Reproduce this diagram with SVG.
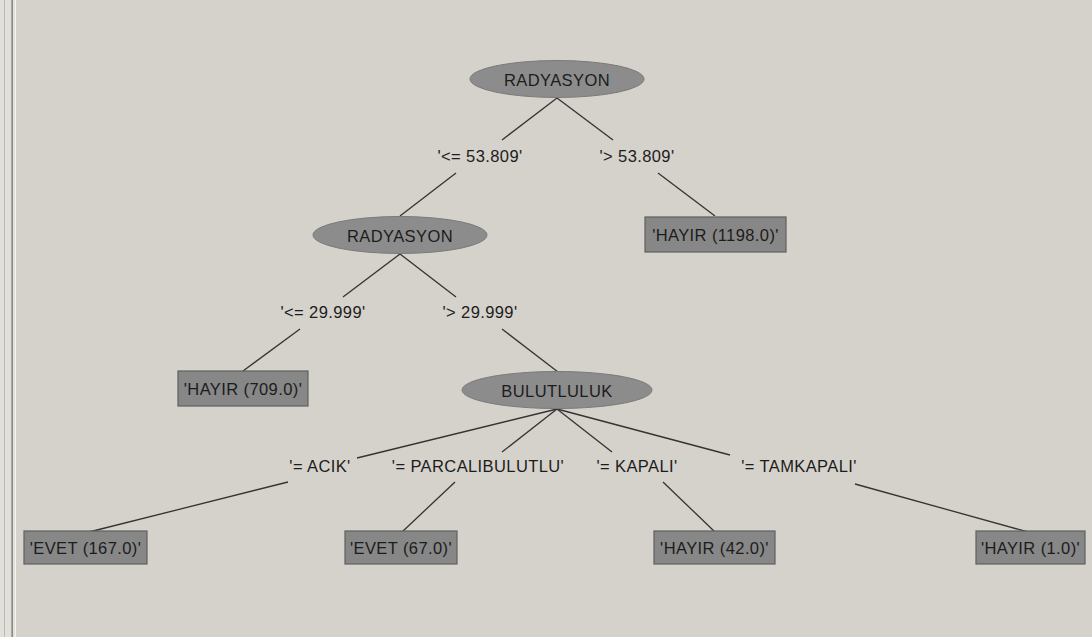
<svg xmlns="http://www.w3.org/2000/svg" width="1092" height="637" viewBox="0 0 1092 637">
<style>
.t{font-family:"Liberation Sans",Arial,sans-serif;font-size:16.5px;letter-spacing:0.4px;fill:#1c1c1c;text-anchor:middle;dominant-baseline:central}
.el{fill:#8c8c8c;stroke:#7a7a7a;stroke-width:1}
.bx{fill:#878787;stroke:#5f5f5f;stroke-width:1.2}
.ln{stroke:#333;stroke-width:1.3;fill:none}
</style>
<rect x="0" y="0" width="1092" height="637" fill="#d5d2cb"/>
<rect x="0" y="0" width="16" height="637" fill="#e2e0da"/>
<line x1="4.5" y1="0" x2="4.5" y2="637" stroke="#bdb9b1" stroke-width="1"/>
<line x1="11.5" y1="0" x2="11.5" y2="637" stroke="#aaa69e" stroke-width="1"/>
<line x1="12.5" y1="0" x2="12.5" y2="637" stroke="#8f8b83" stroke-width="1"/>
<line x1="15.5" y1="0" x2="15.5" y2="637" stroke="#f4f3f0" stroke-width="1"/>

<g id="connectors">
<line class="ln" x1="557" y1="98" x2="502" y2="140"/>
<line class="ln" x1="557" y1="98" x2="613" y2="140"/>
<line class="ln" x1="456" y1="173" x2="400" y2="216"/>
<line class="ln" x1="658" y1="173" x2="715" y2="216"/>
<line class="ln" x1="400" y1="254" x2="343" y2="297"/>
<line class="ln" x1="400" y1="254" x2="456" y2="297"/>
<line class="ln" x1="300" y1="329" x2="243" y2="371"/>
<line class="ln" x1="502" y1="329" x2="558" y2="372"/>
<line class="ln" x1="557" y1="409" x2="357" y2="458"/>
<line class="ln" x1="557" y1="409" x2="502" y2="452"/>
<line class="ln" x1="557" y1="409" x2="612" y2="452"/>
<line class="ln" x1="557" y1="409" x2="730" y2="455"/>
<line class="ln" x1="288" y1="482" x2="89" y2="532"/>
<line class="ln" x1="455" y1="482" x2="402" y2="532"/>
<line class="ln" x1="663" y1="482" x2="715" y2="532"/>
<line class="ln" x1="855" y1="484" x2="1028" y2="532"/>
<text class="t" x="480" y="156">'&lt;= 53.809'</text>
<text class="t" x="637" y="156">'&gt; 53.809'</text>
<text class="t" x="323" y="312">'&lt;= 29.999'</text>
<text class="t" x="480" y="312">'&gt; 29.999'</text>
<text class="t" x="320" y="466">'= ACIK'</text>
<text class="t" x="478" y="466">'= PARCALIBULUTLU'</text>
<text class="t" x="637" y="466">'= KAPALI'</text>
<text class="t" x="799" y="466">'= TAMKAPALI'</text>
</g>

<g id="n1"><ellipse class="el" cx="557" cy="79" rx="87" ry="18.5"/><text class="t" x="557" y="80">RADYASYON</text></g>
<g id="n2"><rect class="bx" x="645" y="217" width="141" height="35"/><text class="t" x="715.5" y="235">'HAYIR (1198.0)'</text></g>
<g id="n3"><ellipse class="el" cx="400" cy="235" rx="87" ry="18.5"/><text class="t" x="400" y="236">RADYASYON</text></g>
<g id="n4"><rect class="bx" x="178" y="371" width="130" height="35"/><text class="t" x="243" y="389">'HAYIR (709.0)'</text></g>
<g id="n5"><ellipse class="el" cx="557" cy="390" rx="95" ry="18.5"/><text class="t" x="557" y="391">BULUTLULUK</text></g>
<g id="n6"><rect class="bx" x="24" y="531" width="123" height="33"/><text class="t" x="85.5" y="548">'EVET (167.0)'</text></g>
<g id="n7"><rect class="bx" x="345" y="531" width="112" height="33"/><text class="t" x="401" y="548">'EVET (67.0)'</text></g>
<g id="n8"><rect class="bx" x="654" y="531" width="121" height="33"/><text class="t" x="714.5" y="548">'HAYIR (42.0)'</text></g>
<g id="n9"><rect class="bx" x="976" y="531" width="109" height="33"/><text class="t" x="1030.5" y="548">'HAYIR (1.0)'</text></g>
</svg>
